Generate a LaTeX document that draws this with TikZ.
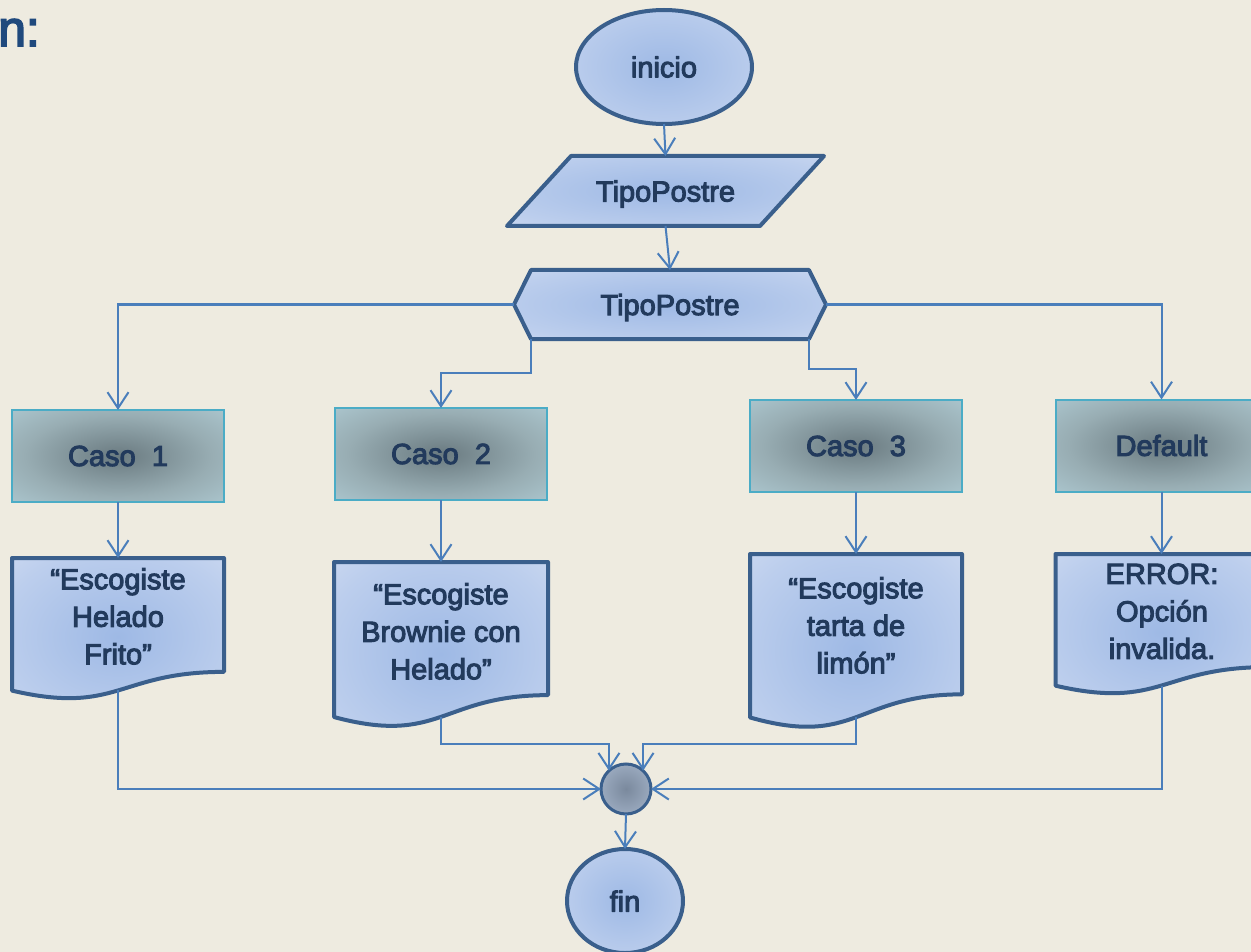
\documentclass[tikz,border=0pt]{standalone}
\usepackage{fontspec}
\setmainfont{Liberation Sans}
\newfontfamily\flowfont{Liberation Sans}[FakeBold=3.5]
\usetikzlibrary{arrows.meta,shapes.geometric,calc}

% palette
\definecolor{paper}{HTML}{EEEBE0}
\definecolor{edge}{HTML}{3A5F8C}
\definecolor{link}{HTML}{4A7EBB}
\definecolor{ink}{HTML}{223A5C}
\definecolor{title}{HTML}{1F497D}
\definecolor{glowin}{HTML}{9EB9E5}
\definecolor{glowmid}{HTML}{BCCEED}
\definecolor{glowout}{HTML}{DCE4F4}
\definecolor{casoedge}{HTML}{4BACC6}
\definecolor{casoin}{HTML}{6A7A80}
\definecolor{casomid}{HTML}{98ADB3}
\definecolor{casoout}{HTML}{BDDDE7}
\definecolor{knotin}{HTML}{7A899D}
\definecolor{knotout}{HTML}{B9C9DF}

% centre-out gradients
\pgfdeclareradialshading{blueglow}{\pgfpoint{0bp}{0bp}}{color(0bp)=(glowin); color(28bp)=(glowmid); color(50bp)=(glowout)}
\pgfdeclareradialshading{casoglow}{\pgfpoint{0bp}{0bp}}{color(0bp)=(casoin); color(22bp)=(casomid); color(50bp)=(casoout)}
\pgfdeclareradialshading{knotglow}{\pgfpoint{0bp}{0bp}}{color(0bp)=(knotin); color(50bp)=(knotout)}

\pgfdeclarelayer{paperlayer}
\pgfdeclarelayer{shapelayer}
\pgfsetlayers{paperlayer,shapelayer,main}

% document symbol with a wavy lower edge, drawn round a geometry node
\newcommand{\docoutline}[1]{%
  \path[blueshape] (#1.north west) -- (#1.north east)
    -- ($(#1.north east)!0.802!(#1.south east)$)
    .. controls ($(#1.north)!0.802!(#1.south)$) and ($(#1.north)!1.107!(#1.south)$)
    .. ($(#1.north west)!0.934!(#1.south west)$) -- cycle;}

\tikzset{
  geo/.style={rectangle, inner sep=0pt, outer sep=0pt},
  blueshape/.style={draw=edge, line width=4pt, line join=round, shade, shading=blueglow},
  terminal/.style={ellipse, blueshape, inner sep=0pt, outer sep=0pt},
  casebox/.style={rectangle, draw=casoedge, line width=2pt, shade, shading=casoglow,
    minimum width=212pt, minimum height=92pt, inner sep=0pt, outer sep=0pt},
  doctext/.style={align=center, inner sep=0pt},
  flow/.style={draw=link, line width=2pt, -{Straight Barb[length=16pt,width=21pt]}},
}

\begin{document}
\begin{tikzpicture}[x=1pt, y=-1pt, text=ink,
    font=\flowfont\fontsize{29pt}{37.5pt}\selectfont]

\begin{pgfonlayer}{paperlayer}
  \fill[paper] (0,0) rectangle (1251,952);
\end{pgfonlayer}
\useasboundingbox (0,0) rectangle (1251,952);

% heading fragment
\node[anchor=base west, inner sep=0pt, text=title,
      font=\flowfont\fontsize{50pt}{50pt}\selectfont] (heading) at (-2,46) {n:};

% start, input, selector
\node[terminal, minimum width=176pt, minimum height=114pt] (start) at (664,67) {inicio};
\node[geo, minimum width=317pt, minimum height=70pt, text depth=0pt] (read) at (665.5,191) {TipoPostre};
\node[geo, minimum width=312pt, minimum height=69pt, text depth=0pt] (switch) at (670,304.5) {TipoPostre};

% cases
\node[casebox] (case1) at (118,456) {Caso\ \ 1};
\node[casebox] (case2) at (441,454) {Caso\ \ 2};
\node[casebox] (case3) at (856,446) {Caso\ \ 3};
\node[casebox] (case4) at (1161.5,445.5) {Default};

% output documents (geometry) and their texts
\node[geo, minimum width=212pt, minimum height=142pt] (doc1) at (118,629) {};
\node[geo, minimum width=214pt, minimum height=166pt] (doc2) at (441,645) {};
\node[geo, minimum width=212pt, minimum height=175pt] (doc3) at (856,641.5) {};
\node[geo, minimum width=212pt, minimum height=141pt] (doc4) at (1161.5,624.5) {};

\node[doctext] (msg1) at (118,616.4) {“Escogiste\\Helado\\Frito”};
\node[doctext] (msg2) at (441,631.4) {“Escogiste\\Brownie con\\Helado”};
\node[doctext] (msg3) at (856,625.4) {“Escogiste\\tarta de\\limón”};
\node[doctext] (msg4) at (1162,611.4) {ERROR:\\Opción\\invalida.};

% merge point and end
\node[circle, draw=edge, line width=3pt, shade, shading=knotglow, minimum size=50pt,
      inner sep=0pt, outer sep=0pt] (join) at (626,789) {};
\node[terminal, minimum width=116pt, minimum height=104pt] (stop) at (625,901) {fin};

\begin{pgfonlayer}{shapelayer}
  \path[blueshape] ([xshift=64pt]read.north west) -- (read.north east)
    -- ([xshift=-64pt]read.south east) -- (read.south west) -- cycle;
  \path[blueshape] (switch.west) -- ([xshift=17pt]switch.north west)
    -- ([xshift=-17pt]switch.north east) -- (switch.east)
    -- ([xshift=-17pt]switch.south east) -- ([xshift=17pt]switch.south west) -- cycle;
  \docoutline{doc1}
  \docoutline{doc2}
  \docoutline{doc3}
  \docoutline{doc4}
\end{pgfonlayer}

% exits of the documents (middle of the wavy edge)
\coordinate (doc1out) at ($(doc1.north)!0.933!(doc1.south)$);
\coordinate (doc2out) at ($(doc2.north)!0.933!(doc2.south)$);
\coordinate (doc3out) at ($(doc3.north)!0.933!(doc3.south)$);
\coordinate (doc4out) at ($(doc4.north)!0.933!(doc4.south)$);

% connectors
\draw[flow] (start.south) -- (read.north);
\draw[flow] (read.south) -- (switch.north);
\draw[flow] (switch.west) -| (case1.north);
\draw[flow] (switch.east) -| (case4.north);
\draw[flow] ([xshift=17pt]switch.south west) -- ++(0,34) -| (case2.north);
\draw[flow] ([xshift=-17pt]switch.south east) -- ++(0,30) -| (case3.north);

\draw[flow] (case1.south) -- (doc1.north);
\draw[flow] (case2.south) -- (doc2.north);
\draw[flow] (case3.south) -- (doc3.north);
\draw[flow] (case4.south) -- (doc4.north);

\draw[flow] (doc1out) |- (join.west);
\draw[flow] (doc4out) |- (join.east);
\draw[flow] (doc2out) |- ($(join.133)+(0,-27)$) -- (join.133);
\draw[flow] (doc3out) |- ($(join.47)+(0,-27)$) -- (join.47);
\draw[flow] (join.south) -- (stop.north);

\end{tikzpicture}
\end{document}
